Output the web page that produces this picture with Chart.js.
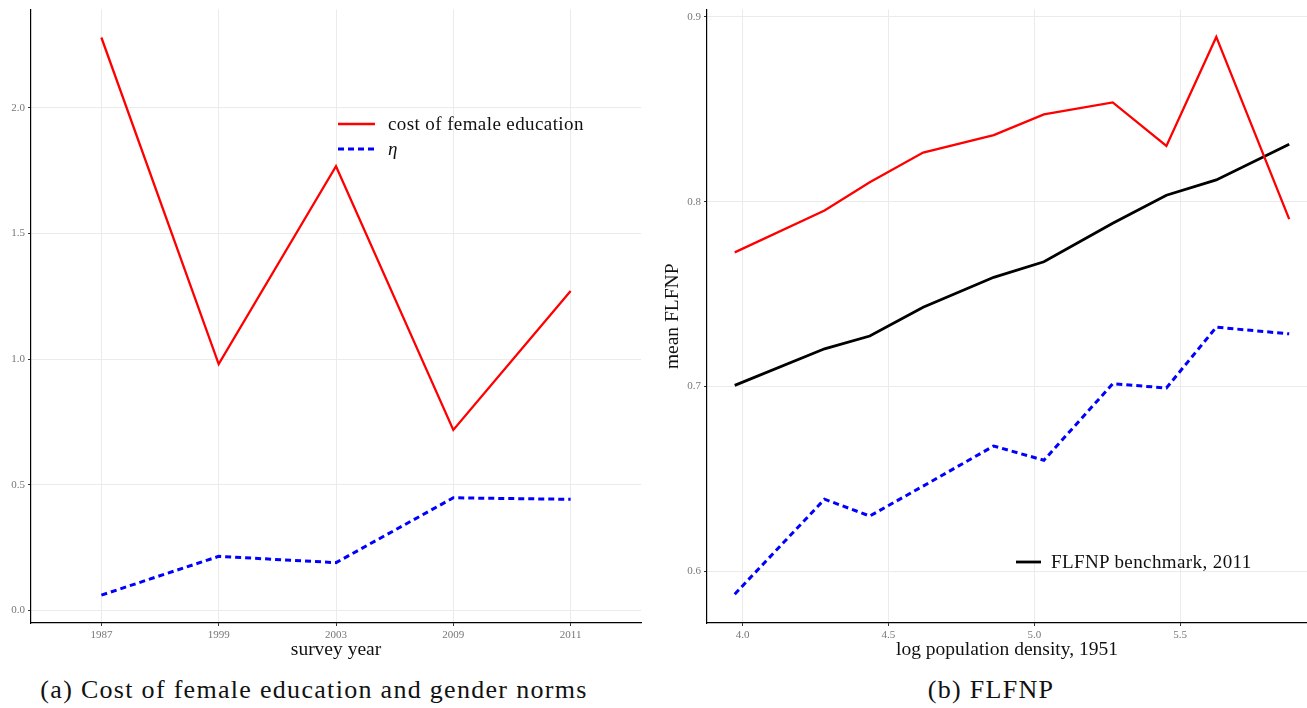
<!DOCTYPE html>
<html>
<head>
<meta charset="utf-8">
<script src="https://cdn.jsdelivr.net/npm/chart.js@4.4.0/dist/chart.umd.min.js"></script>
<style>
body { margin: 0; background: #fff; width: 1307px; height: 708px; position: relative; overflow: hidden;
       font-family: "Liberation Serif", "DejaVu Serif", serif; color: #111; }
#boxA { position: absolute; left: 0; top: 0; width: 645px; height: 665px; }
#boxB { position: absolute; left: 650px; top: 0; width: 657px; height: 665px; }
.caption { position: absolute; top: 675px; font-size: 26px; letter-spacing: 1.3px; white-space: nowrap; transform: translateX(-50%); }
.legend { position: absolute; font-size: 19px; letter-spacing: 0.4px; }
.legend .row { display: flex; align-items: center; height: 25px; white-space: nowrap; }
.legend svg { margin-right: 13px; }
#legendB svg { margin-right: 10px; }
</style>
</head>
<body>
<div id="boxA"><canvas id="chartA"></canvas></div>
<div id="boxB"><canvas id="chartB"></canvas></div>
<div class="legend" id="legendA" style="left:338px; top:111px;"></div>
<div class="legend" id="legendB" style="left:1016px; top:549px;"></div>
<div class="caption" style="left:314px;">(a) Cost of female education and gender norms</div>
<div class="caption" style="left:991px;">(b) FLFNP</div>

<script>
// panel (a): survey years
const years = ['1987', '1999', '2003', '2009', '2011'];
const costFemaleEdu = [2.279, 0.980, 1.767, 0.718, 1.271];
const etaValues = [0.061, 0.215, 0.190, 0.448, 0.442];
const yTicksA = [0, 0.5, 1.0, 1.5, 2.0];

// panel (b): log population density bins
const logDensity = [3.973, 4.281, 4.436, 4.619, 4.861, 5.033, 5.269, 5.453, 5.624, 5.874];
const costByDensity = [0.7726, 0.7953, 0.8105, 0.8266, 0.8361, 0.8473, 0.8538, 0.8302, 0.8892, 0.7906];
const etaByDensity = [0.5876, 0.6390, 0.6299, 0.6461, 0.6678, 0.6601, 0.7015, 0.6992, 0.7321, 0.7285];
const flfnpBenchmark = [0.7006, 0.7204, 0.7273, 0.7429, 0.7591, 0.7675, 0.7884, 0.8035, 0.8118, 0.8311];
const xTicksB = [4.0, 4.5, 5.0, 5.5];
const yTicksB = [0.6, 0.7, 0.8, 0.9];

const serif = '"Liberation Serif", "DejaVu Serif", serif';
const gridCol = '#ebebeb';
const titleFont = { family: serif, size: 19.5 };
const tickFont = { family: serif, size: 11 };

function pts(xs, ys) { return ys.map((v, i) => ({ x: xs[i], y: v })); }

function axis(extra) {
  return Object.assign({
    type: 'linear',
    grid: { color: gridCol, lineWidth: 1, tickColor: '#333', tickLength: 3 },
    border: { display: true, color: '#000', width: 1.2 }
  }, extra);
}

function fixedTicks(list) {
  return s => { s.ticks = list.map(v => ({ value: v })); };
}

const redLine = { borderColor: '#ff0000', borderWidth: 2.3, pointRadius: 0, fill: false, tension: 0 };
const blueLine = { borderColor: '#0000ff', borderWidth: 3, borderDash: [6, 4], borderCapStyle: 'butt', pointRadius: 0, fill: false, tension: 0 };
const blackLine = { borderColor: '#000000', borderWidth: 2.8, pointRadius: 0, fill: false, tension: 0 };

Chart.defaults.animation = false;
Chart.defaults.font.family = serif;

const yearIdx = years.map((y, i) => i);

const chartA = new Chart(document.getElementById('chartA'), {
  type: 'line',
  data: {
    datasets: [
      Object.assign({ label: 'cost of female education', data: pts(yearIdx, costFemaleEdu) }, redLine),
      Object.assign({ label: 'η', data: pts(yearIdx, etaValues) }, blueLine)
    ]
  },
  options: {
    responsive: true, maintainAspectRatio: false,
    layout: { padding: { top: 8, right: 4, left: 0, bottom: 0 } },
    plugins: { legend: { display: false }, tooltip: { enabled: false } },
    scales: {
      x: axis({
        min: -0.6, max: 4.6,
        afterBuildTicks: fixedTicks(yearIdx),
        afterFit: s => { s.height = 42; },
        ticks: { color: '#777', font: tickFont, padding: 3, maxRotation: 0, autoSkip: false, callback: v => years[v] },
        title: { display: true, text: 'survey year', color: '#111', font: titleFont, padding: { top: 0, bottom: 3 } }
      }),
      y: axis({
        min: -0.05, max: 2.39,
        afterBuildTicks: fixedTicks(yTicksA),
        afterFit: s => { s.width = 31; },
        ticks: { color: '#777', font: tickFont, padding: 3, callback: v => v.toFixed(1) }
      })
    }
  }
});

const chartB = new Chart(document.getElementById('chartB'), {
  type: 'line',
  data: {
    datasets: [
      Object.assign({ label: 'cost of female education', data: pts(logDensity, costByDensity) }, redLine),
      Object.assign({ label: 'η', data: pts(logDensity, etaByDensity) }, blueLine),
      Object.assign({ label: 'FLFNP benchmark, 2011', data: pts(logDensity, flfnpBenchmark) }, blackLine)
    ]
  },
  options: {
    responsive: true, maintainAspectRatio: false,
    layout: { padding: { top: 8, right: 0, left: 0, bottom: 0 } },
    plugins: { legend: { display: false }, tooltip: { enabled: false } },
    scales: {
      x: axis({
        min: 3.878, max: 5.935,
        afterBuildTicks: fixedTicks(xTicksB),
        afterFit: s => { s.height = 42; },
        ticks: { color: '#777', font: tickFont, padding: 3, maxRotation: 0, callback: v => v.toFixed(1) },
        title: { display: true, text: 'log population density, 1951', color: '#111', font: titleFont, padding: { top: 0, bottom: 3 } }
      }),
      y: axis({
        min: 0.572, max: 0.904,
        afterBuildTicks: fixedTicks(yTicksB),
        afterFit: s => { s.width = 57; },
        ticks: { color: '#777', font: tickFont, padding: 3, callback: v => v.toFixed(1) },
        title: { display: true, text: 'mean FLFNP', color: '#111', font: titleFont, padding: { top: 11, bottom: 0 } }
      })
    }
  }
});

// legends drawn from the dataset styles
function legendRow(ds, w) {
  const dash = ds.borderDash ? ds.borderDash.join(',') : 'none';
  const label = ds.label === 'η' ? '<i>η</i>' : ds.label;
  return '<div class="row"><svg width="' + w + '" height="6"><line x1="0" y1="3" x2="' + w + '" y2="3" stroke="' +
    ds.borderColor + '" stroke-width="' + ds.borderWidth + '" stroke-dasharray="' + dash + '"/></svg><span>' + label + '</span></div>';
}
document.getElementById('legendA').innerHTML = chartA.data.datasets.map(ds => legendRow(ds, 37)).join('');
document.getElementById('legendB').innerHTML = legendRow(chartB.data.datasets[2], 25);
</script>
</body>
</html>
